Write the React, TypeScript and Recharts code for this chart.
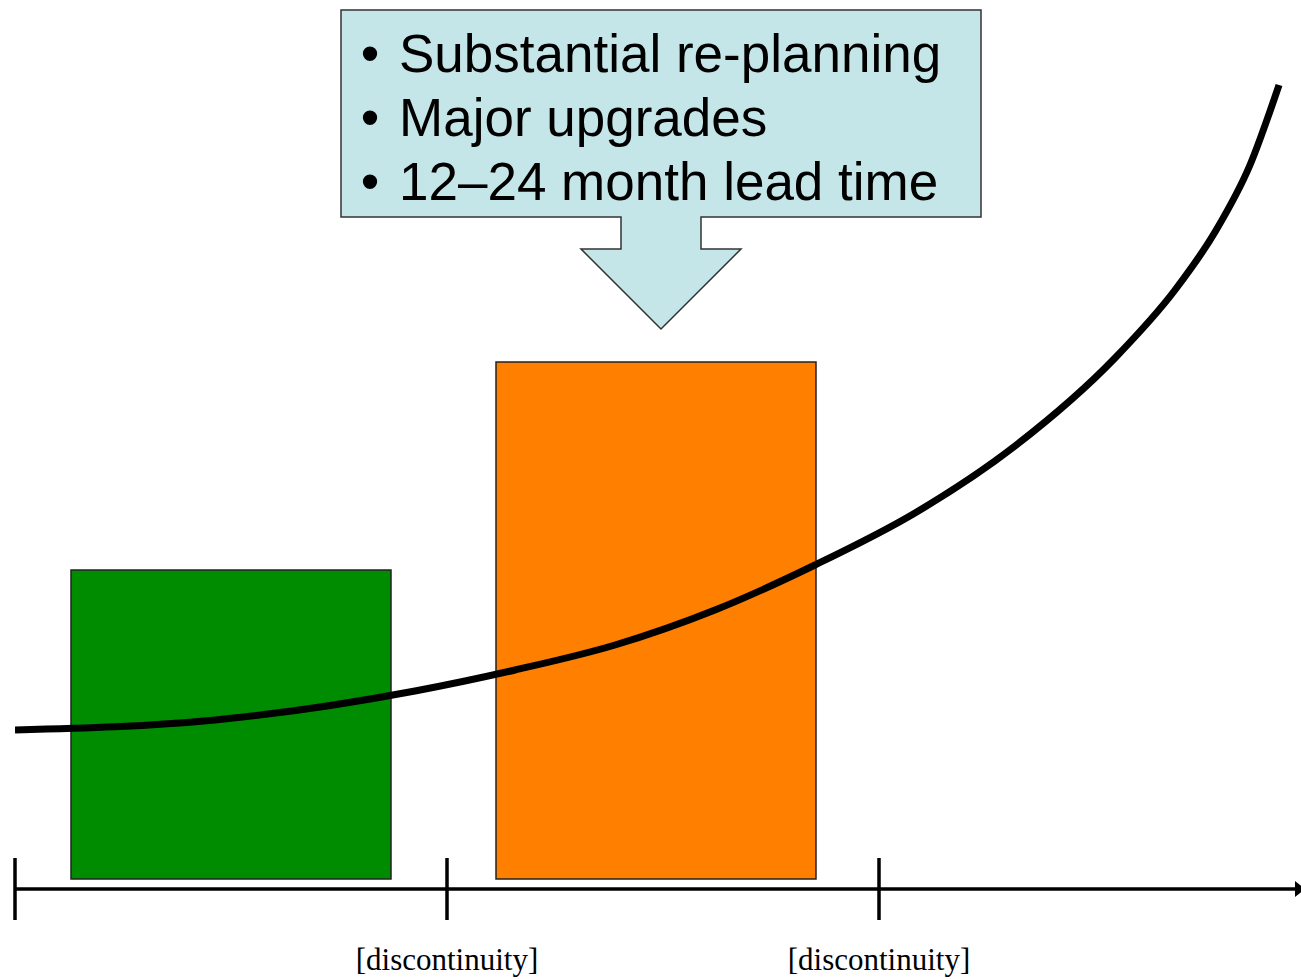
import React from "react"
import {
  ComposedChart,
  Line,
  ReferenceArea,
  ReferenceDot,
  XAxis,
  YAxis,
} from "recharts"

// units: x = distance along the time axis, y = height above the axis line
const curveX = [0, 200, 400, 500, 600, 700, 800, 900, 1000, 1100, 1160, 1200, 1235, 1264]
const curveY = [159, 169, 198, 219, 244, 279, 324, 376, 443, 531, 599, 657, 724, 804]

const boxNames = ["current", "upgrade"]
const boxStart = [56, 481]
const boxEnd = [376, 801]
const boxLow = [10, 10]
const boxHigh = [319, 527]
const boxColors = ["#008c00", "#ff7f00"]

const tickValues = [0, 432, 864]
const tickLabels = ["", "[discontinuity]", "[discontinuity]"]

const calloutLines = [
  "Substantial re-planning",
  "Major upgrades",
  "12–24 month lead time",
]
const calloutArea = { x1: 326, x2: 966, y1: 560, y2: 879 }

const data = curveX.map((x, i) => ({ x, y: curveY[i] }))

const AxisTick = (props: any) => {
  const { x, y, index } = props
  const label = tickLabels[index]
  return (
    <g>
      <line x1={x} x2={x} y1={y - 31} y2={y + 31} stroke="#000" strokeWidth={3.5} />
      {label && (
        <text
          x={x}
          y={y + 81}
          textAnchor="middle"
          fontFamily="'Liberation Serif', 'Times New Roman', serif"
          fontSize={31}
          fill="#000"
        >
          {label}
        </text>
      )}
    </g>
  )
}

const Callout = (props: any) => {
  const { x, y, width, height } = props
  const cx = x + width / 2
  const boxH = 207
  const pts = [
    [x, y],
    [x + width, y],
    [x + width, y + boxH],
    [cx + 40, y + boxH],
    [cx + 40, y + 239],
    [cx + 80, y + 239],
    [cx, y + height],
    [cx - 80, y + 239],
    [cx - 40, y + 239],
    [cx - 40, y + boxH],
    [x, y + boxH],
  ]
  return (
    <g>
      <polygon
        points={pts.map((p) => p.join(",")).join(" ")}
        fill="#c5e6e8"
        stroke="#333"
        strokeWidth={1.5}
      />
      {calloutLines.map((t, i) => (
        <g key={t} fontFamily="'Liberation Sans', Arial, sans-serif" fontSize={53} fill="#000">
          <text x={x + 29} y={y + 62 + i * 64} textAnchor="middle">•</text>
          <text x={x + 58} y={y + 62 + i * 64}>{t}</text>
        </g>
      ))}
    </g>
  )
}

const ArrowHead = (props: any) => {
  const { cx, cy } = props
  return <path d={`M${cx + 4},${cy} L${cx - 6},${cy - 8} L${cx - 6},${cy + 8} Z`} fill="#000" />
}

export default function App() {
  return (
    <div style={{ position: "absolute", left: 0, top: 0, width: 1301, height: 979, background: "#fff" }}>
      <ComposedChart
        width={1301}
        height={979}
        data={data}
        margin={{ top: 0, right: 0, bottom: 0, left: 15 }}
      >
        <XAxis
          dataKey="x"
          type="number"
          domain={[0, 1286]}
          ticks={tickValues}
          interval={0}
          tickLine={false}
          tickSize={0}
          tickMargin={0}
          height={90}
          axisLine={{ stroke: "#000", strokeWidth: 3.5 }}
          tick={<AxisTick />}
          allowDataOverflow
        />
        <YAxis type="number" domain={[0, 889]} hide allowDataOverflow />
        {boxNames.map((n, i) => (
          <ReferenceArea
            key={n}
            x1={boxStart[i]}
            x2={boxEnd[i]}
            y1={boxLow[i]}
            y2={boxHigh[i]}
            fill={boxColors[i]}
            fillOpacity={1}
            stroke="#222"
            strokeWidth={1.5}
          />
        ))}
        <Line
          type="monotone"
          dataKey="y"
          stroke="#000"
          strokeWidth={7}
          dot={false}
          activeDot={false}
          isAnimationActive={false}
        />
        <ReferenceArea
          x1={calloutArea.x1}
          x2={calloutArea.x2}
          y1={calloutArea.y1}
          y2={calloutArea.y2}
          shape={<Callout />}
        />
        <ReferenceDot x={1286} y={0} ifOverflow="visible" shape={<ArrowHead />} />
      </ComposedChart>
    </div>
  )
}
